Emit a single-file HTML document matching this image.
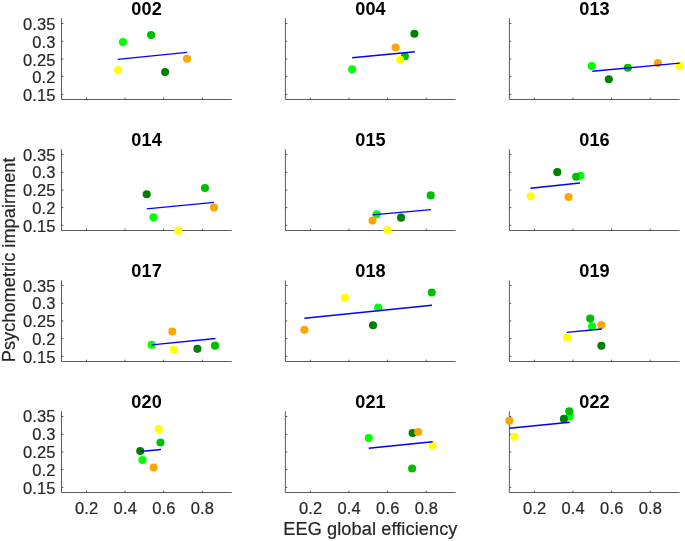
<!DOCTYPE html>
<html><head><meta charset="utf-8"><title>EEG global efficiency vs psychometric impairment</title>
<style>html,body{margin:0;padding:0;background:#fff;}body{width:685px;height:541px;overflow:hidden;}svg{display:block;font-family:"Liberation Sans",Arial,Helvetica,sans-serif;}.t{font-size:16.5px;fill:#262626;letter-spacing:0.15px;stroke:#262626;stroke-width:0.2px;}.h{font-size:18.15px;font-weight:bold;fill:#000;text-anchor:middle;letter-spacing:0.12px;}.l{font-size:18.15px;fill:#262626;text-anchor:middle;letter-spacing:0.1px;stroke:#262626;stroke-width:0.2px;}.a{stroke:#262626;stroke-width:0.75;fill:none;}.f{stroke:#0000ff;stroke-width:1.4;fill:none;stroke-linecap:butt;}</style></head><body>
<svg width="685" height="541" viewBox="0 0 685 541">
<rect width="685" height="541" fill="#fff"/>
<g>
<path class="a" d="M61.50 18.30V99.50H231.70M61.50 23.50h1.90M61.50 41.30h1.90M61.50 59.00h1.90M61.50 76.60h1.90M61.50 94.40h1.90M86.50 99.50v-1.90M125.10 99.50v-1.90M163.70 99.50v-1.90M202.30 99.50v-1.90"/>
<text class="h" x="146.60" y="15.00">002</text>
<text class="t" text-anchor="end" x="55.65" y="30.20">0.35</text>
<text class="t" text-anchor="end" x="55.65" y="48.00">0.3</text>
<text class="t" text-anchor="end" x="55.65" y="65.70">0.25</text>
<text class="t" text-anchor="end" x="55.65" y="83.30">0.2</text>
<text class="t" text-anchor="end" x="55.65" y="101.10">0.15</text>
<circle cx="122.90" cy="42.10" r="4.05" fill="#00ff00"/>
<circle cx="151.10" cy="35.10" r="4.05" fill="#00bf00"/>
<circle cx="165.10" cy="72.10" r="4.05" fill="#008000"/>
<circle cx="187.00" cy="58.70" r="4.05" fill="#ffa500"/>
<circle cx="118.10" cy="70.10" r="4.05" fill="#ffff00"/>
<path class="f" d="M117.60 59.40L187.00 52.40"/>
</g>
<g>
<path class="a" d="M285.40 18.30V99.50H455.60M285.40 23.50h1.90M285.40 41.30h1.90M285.40 59.00h1.90M285.40 76.60h1.90M285.40 94.40h1.90M310.40 99.50v-1.90M349.00 99.50v-1.90M387.60 99.50v-1.90M426.20 99.50v-1.90"/>
<text class="h" x="370.50" y="15.00">004</text>
<circle cx="352.10" cy="69.30" r="4.05" fill="#00ff00"/>
<circle cx="404.90" cy="56.30" r="4.05" fill="#00bf00"/>
<circle cx="414.40" cy="33.70" r="4.05" fill="#008000"/>
<circle cx="395.60" cy="47.50" r="4.05" fill="#ffa500"/>
<circle cx="400.10" cy="59.80" r="4.05" fill="#ffff00"/>
<path class="f" d="M352.10 57.80L414.90 51.80"/>
</g>
<g>
<path class="a" d="M509.40 18.30V99.50H679.60M509.40 23.50h1.90M509.40 41.30h1.90M509.40 59.00h1.90M509.40 76.60h1.90M509.40 94.40h1.90M534.40 99.50v-1.90M573.00 99.50v-1.90M611.60 99.50v-1.90M650.20 99.50v-1.90"/>
<text class="h" x="594.50" y="15.00">013</text>
<circle cx="591.80" cy="66.10" r="4.05" fill="#00ff00"/>
<circle cx="627.80" cy="67.70" r="4.05" fill="#00bf00"/>
<circle cx="608.80" cy="79.30" r="4.05" fill="#008000"/>
<circle cx="657.90" cy="63.10" r="4.05" fill="#ffa500"/>
<circle cx="679.50" cy="65.90" r="4.05" fill="#ffff00"/>
<path class="f" d="M592.30 71.30L679.70 63.10"/>
</g>
<g>
<path class="a" d="M61.50 149.30V230.50H231.70M61.50 154.50h1.90M61.50 172.30h1.90M61.50 190.00h1.90M61.50 207.60h1.90M61.50 225.40h1.90M86.50 230.50v-1.90M125.10 230.50v-1.90M163.70 230.50v-1.90M202.30 230.50v-1.90"/>
<text class="h" x="146.60" y="145.80">014</text>
<text class="t" text-anchor="end" x="55.65" y="160.50">0.35</text>
<text class="t" text-anchor="end" x="55.65" y="178.10">0.3</text>
<text class="t" text-anchor="end" x="55.65" y="195.80">0.25</text>
<text class="t" text-anchor="end" x="55.65" y="213.90">0.2</text>
<text class="t" text-anchor="end" x="55.65" y="231.70">0.15</text>
<circle cx="153.50" cy="217.35" r="4.05" fill="#00ff00"/>
<circle cx="205.00" cy="188.05" r="4.05" fill="#00bf00"/>
<circle cx="146.70" cy="194.25" r="4.05" fill="#008000"/>
<circle cx="214.00" cy="207.55" r="4.05" fill="#ffa500"/>
<circle cx="178.30" cy="230.65" r="4.05" fill="#ffff00"/>
<path class="f" d="M146.70 208.85L214.00 202.35"/>
</g>
<g>
<path class="a" d="M285.40 149.30V230.50H455.60M285.40 154.50h1.90M285.40 172.30h1.90M285.40 190.00h1.90M285.40 207.60h1.90M285.40 225.40h1.90M310.40 230.50v-1.90M349.00 230.50v-1.90M387.60 230.50v-1.90M426.20 230.50v-1.90"/>
<text class="h" x="370.50" y="145.80">015</text>
<circle cx="376.70" cy="214.35" r="4.05" fill="#00ff00"/>
<circle cx="430.70" cy="195.40" r="4.05" fill="#00bf00"/>
<circle cx="401.10" cy="217.65" r="4.05" fill="#008000"/>
<circle cx="372.50" cy="220.60" r="4.05" fill="#ffa500"/>
<circle cx="387.50" cy="229.95" r="4.05" fill="#ffff00"/>
<path class="f" d="M372.50 214.85L431.00 209.65"/>
</g>
<g>
<path class="a" d="M509.40 149.30V230.50H679.60M509.40 154.50h1.90M509.40 172.30h1.90M509.40 190.00h1.90M509.40 207.60h1.90M509.40 225.40h1.90M534.40 230.50v-1.90M573.00 230.50v-1.90M611.60 230.50v-1.90M650.20 230.50v-1.90"/>
<text class="h" x="594.50" y="145.80">016</text>
<circle cx="580.40" cy="175.75" r="4.05" fill="#00ff00"/>
<circle cx="576.10" cy="176.75" r="4.05" fill="#00bf00"/>
<circle cx="557.30" cy="172.15" r="4.05" fill="#008000"/>
<circle cx="568.60" cy="197.05" r="4.05" fill="#ffa500"/>
<circle cx="530.70" cy="196.35" r="4.05" fill="#ffff00"/>
<path class="f" d="M530.40 188.25L579.90 182.95"/>
</g>
<g>
<path class="a" d="M61.50 280.30V361.50H231.70M61.50 285.50h1.90M61.50 303.30h1.90M61.50 321.00h1.90M61.50 338.60h1.90M61.50 356.40h1.90M86.50 361.50v-1.90M125.10 361.50v-1.90M163.70 361.50v-1.90M202.30 361.50v-1.90"/>
<text class="h" x="146.60" y="276.60">017</text>
<text class="t" text-anchor="end" x="55.65" y="291.50">0.35</text>
<text class="t" text-anchor="end" x="55.65" y="309.30">0.3</text>
<text class="t" text-anchor="end" x="55.65" y="327.30">0.25</text>
<text class="t" text-anchor="end" x="55.65" y="344.90">0.2</text>
<text class="t" text-anchor="end" x="55.65" y="362.70">0.15</text>
<circle cx="151.70" cy="344.85" r="4.05" fill="#00ff00"/>
<circle cx="215.00" cy="345.65" r="4.05" fill="#00bf00"/>
<circle cx="197.40" cy="348.85" r="4.05" fill="#008000"/>
<circle cx="172.30" cy="331.55" r="4.05" fill="#ffa500"/>
<circle cx="173.80" cy="349.85" r="4.05" fill="#ffff00"/>
<path class="f" d="M151.70 344.85L215.50 338.55"/>
</g>
<g>
<path class="a" d="M285.40 280.30V361.50H455.60M285.40 285.50h1.90M285.40 303.30h1.90M285.40 321.00h1.90M285.40 338.60h1.90M285.40 356.40h1.90M310.40 361.50v-1.90M349.00 361.50v-1.90M387.60 361.50v-1.90M426.20 361.50v-1.90"/>
<text class="h" x="370.50" y="276.60">018</text>
<circle cx="378.20" cy="307.45" r="4.05" fill="#00ff00"/>
<circle cx="431.70" cy="292.45" r="4.05" fill="#00bf00"/>
<circle cx="373.00" cy="325.25" r="4.05" fill="#008000"/>
<circle cx="304.40" cy="329.85" r="4.05" fill="#ffa500"/>
<circle cx="344.90" cy="297.65" r="4.05" fill="#ffff00"/>
<path class="f" d="M304.40 318.25L432.00 305.25"/>
</g>
<g>
<path class="a" d="M509.40 280.30V361.50H679.60M509.40 285.50h1.90M509.40 303.30h1.90M509.40 321.00h1.90M509.40 338.60h1.90M509.40 356.40h1.90M534.40 361.50v-1.90M573.00 361.50v-1.90M611.60 361.50v-1.90M650.20 361.50v-1.90"/>
<text class="h" x="594.50" y="276.60">019</text>
<circle cx="592.10" cy="326.40" r="4.05" fill="#00ff00"/>
<circle cx="590.20" cy="318.60" r="4.05" fill="#00bf00"/>
<circle cx="601.40" cy="345.70" r="4.05" fill="#008000"/>
<circle cx="601.30" cy="325.10" r="4.05" fill="#ffa500"/>
<circle cx="567.20" cy="337.50" r="4.05" fill="#ffff00"/>
<path class="f" d="M566.80 332.40L601.90 329.00"/>
</g>
<g>
<path class="a" d="M61.50 411.30V492.50H231.70M61.50 416.50h1.90M61.50 434.30h1.90M61.50 452.00h1.90M61.50 469.60h1.90M61.50 487.40h1.90M86.50 492.50v-1.90M125.10 492.50v-1.90M163.70 492.50v-1.90M202.30 492.50v-1.90"/>
<text class="h" x="146.60" y="407.90">020</text>
<text class="t" text-anchor="end" x="55.65" y="422.20">0.35</text>
<text class="t" text-anchor="end" x="55.65" y="440.20">0.3</text>
<text class="t" text-anchor="end" x="55.65" y="458.10">0.25</text>
<text class="t" text-anchor="end" x="55.65" y="475.70">0.2</text>
<text class="t" text-anchor="end" x="55.65" y="493.50">0.15</text>
<text class="t" text-anchor="middle" x="86.70" y="513.70">0.2</text>
<text class="t" text-anchor="middle" x="125.30" y="513.70">0.4</text>
<text class="t" text-anchor="middle" x="163.90" y="513.70">0.6</text>
<text class="t" text-anchor="middle" x="202.50" y="513.70">0.8</text>
<circle cx="142.50" cy="460.05" r="4.05" fill="#00ff00"/>
<circle cx="160.50" cy="442.45" r="4.05" fill="#00bf00"/>
<circle cx="140.20" cy="451.05" r="4.05" fill="#008000"/>
<circle cx="153.70" cy="467.55" r="4.05" fill="#ffa500"/>
<circle cx="158.80" cy="429.15" r="4.05" fill="#ffff00"/>
<path class="f" d="M140.20 451.55L161.00 449.45"/>
</g>
<g>
<path class="a" d="M285.40 411.30V492.50H455.60M285.40 416.50h1.90M285.40 434.30h1.90M285.40 452.00h1.90M285.40 469.60h1.90M285.40 487.40h1.90M310.40 492.50v-1.90M349.00 492.50v-1.90M387.60 492.50v-1.90M426.20 492.50v-1.90"/>
<text class="h" x="370.50" y="407.90">021</text>
<text class="t" text-anchor="middle" x="310.60" y="513.70">0.2</text>
<text class="t" text-anchor="middle" x="349.20" y="513.70">0.4</text>
<text class="t" text-anchor="middle" x="387.80" y="513.70">0.6</text>
<text class="t" text-anchor="middle" x="426.40" y="513.70">0.8</text>
<circle cx="368.70" cy="437.95" r="4.05" fill="#00ff00"/>
<circle cx="412.10" cy="468.55" r="4.05" fill="#00bf00"/>
<circle cx="412.60" cy="432.95" r="4.05" fill="#008000"/>
<circle cx="418.20" cy="431.95" r="4.05" fill="#ffa500"/>
<circle cx="432.50" cy="445.25" r="4.05" fill="#ffff00"/>
<path class="f" d="M368.70 448.25L432.70 441.75"/>
</g>
<g>
<path class="a" d="M509.40 411.30V492.50H679.60M509.40 416.50h1.90M509.40 434.30h1.90M509.40 452.00h1.90M509.40 469.60h1.90M509.40 487.40h1.90M534.40 492.50v-1.90M573.00 492.50v-1.90M611.60 492.50v-1.90M650.20 492.50v-1.90"/>
<text class="h" x="594.50" y="407.90">022</text>
<text class="t" text-anchor="middle" x="534.60" y="513.70">0.2</text>
<text class="t" text-anchor="middle" x="573.20" y="513.70">0.4</text>
<text class="t" text-anchor="middle" x="611.80" y="513.70">0.6</text>
<text class="t" text-anchor="middle" x="650.40" y="513.70">0.8</text>
<circle cx="569.60" cy="416.40" r="4.05" fill="#00ff00"/>
<circle cx="569.30" cy="411.20" r="4.05" fill="#00bf00"/>
<circle cx="563.90" cy="418.90" r="4.05" fill="#008000"/>
<circle cx="509.40" cy="420.70" r="4.05" fill="#ffa500"/>
<circle cx="514.50" cy="436.70" r="4.05" fill="#ffff00"/>
<path class="f" d="M509.40 428.20L569.70 422.30"/>
</g>
<text class="l" x="370.4" y="535">EEG global efficiency</text>
<text class="l" style="letter-spacing:0.05px" transform="translate(14.7 259.8) rotate(-90)">Psychometric impairment</text>
</svg></body></html>
